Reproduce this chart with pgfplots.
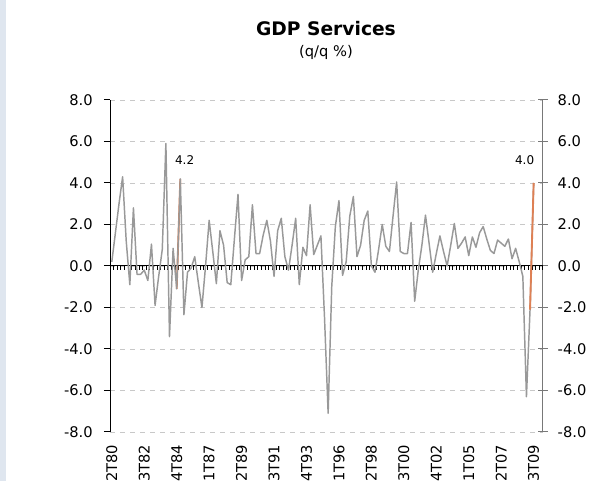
\documentclass[border=0pt]{standalone}
\usepackage{fontspec}
\setmainfont{DejaVu Sans}
\usepackage{pgfplots}
\usepackage{pgfplotstable}
\pgfplotsset{compat=1.18}
\definecolor{strip}{RGB}{223,230,239}
\definecolor{gridc}{RGB}{200,200,200}
\definecolor{serie}{RGB}{153,153,153}
\definecolor{hl}{RGB}{222,128,84}
\definecolor{raxis}{RGB}{120,120,120}

\pgfplotstableread{
i v
0 0.2
1 1.6
2 3.0
3 4.3
4 1.2
5 -0.9
6 2.8
7 -0.4
8 -0.4
9 -0.2
10 -0.7
11 1.05
12 -1.9
13 -0.5
14 0.8
15 5.9
16 -3.4
17 0.85
18 -1.1
19 4.2
20 -2.35
21 -0.3
22 -0.1
23 0.45
24 -0.8
25 -2.0
26 0.0
27 2.2
28 0.7
29 -0.85
30 1.7
31 1.0
32 -0.8
33 -0.9
34 1.3
35 3.45
36 -0.7
37 0.3
38 0.45
39 2.95
40 0.6
41 0.6
42 1.5
43 2.2
44 1.2
45 -0.5
46 1.7
47 2.3
48 0.45
49 -0.2
50 1.0
51 2.3
52 -0.9
53 0.9
54 0.5
55 2.95
56 0.55
57 1.0
58 1.45
59 -2.5
60 -7.1
61 -1.0
62 1.9
63 3.15
64 -0.45
65 0.2
66 2.4
67 3.35
68 0.45
69 1.0
70 2.2
71 2.65
72 0.0
73 -0.3
74 0.8
75 2.0
76 0.95
77 0.7
78 2.4
79 4.05
80 0.7
81 0.6
82 0.6
83 2.1
84 -1.7
85 -0.2
86 1.0
87 2.45
88 1.1
89 -0.3
90 0.6
91 1.45
92 0.7
93 0.0
94 1.0
95 2.05
96 0.85
97 1.1
98 1.4
99 0.5
100 1.4
101 0.9
102 1.6
103 1.9
104 1.3
105 0.75
106 0.6
107 1.25
108 1.1
109 0.95
110 1.3
111 0.35
112 0.85
113 0.2
114 -0.5
115 -6.3
116 -2.1
117 4.0
}\gdp

\begin{document}
\begin{tikzpicture}
\useasboundingbox (0,0) rectangle (450pt,360.75pt);
\fill[strip] (0,0) rectangle (4.8pt,360.75pt);
\pgfplotsset{base/.style={scale only axis, width=324.5pt, height=249pt,
  xmin=-0.5, xmax=119.5, ymin=-8, ymax=8,
  at={(82.5pt,36.75pt)}, anchor=south west}}
% grid + left axis
\begin{axis}[base,
  axis y line*=left, axis x line=none,
  ytick={-8,-6,...,8},
  yticklabels={-8.0,-6.0,-4.0,-2.0,0.0,2.0,4.0,6.0,8.0},
  xtick=\empty,
  ymajorgrids,
  major grid style={gridc, dash pattern=on 4pt off 3.5pt, line width=0.6pt},
  tick align=outside, major tick length=4.5pt,
  y axis line style={black, line width=0.75pt},
  tick style={black, line width=0.75pt},
  yticklabel style={font=\fontsize{11}{13}\selectfont, xshift=-5pt},
]
\end{axis}
% right axis
\begin{axis}[base,
  axis y line*=right, axis x line=none,
  ytick={-8,-6,...,8},
  yticklabels={-8.0,-6.0,-4.0,-2.0,0.0,2.0,4.0,6.0,8.0},
  xtick=\empty,
  tick align=center, major tick length=7.5pt,
  y axis line style={raxis, line width=1.1pt},
  tick style={raxis, line width=0.75pt},
  yticklabel style={font=\fontsize{11}{13}\selectfont, xshift=4pt},
]
\end{axis}
% zero line
\begin{axis}[scale only axis, width=324.5pt, height=20pt,
  xmin=-0.5, xmax=119.5, ymin=0, ymax=1,
  at={(82.5pt,161.25pt)}, anchor=south west,
  axis x line*=bottom, axis y line=none,
  xtick={-0.5,0.5,...,119.5}, xticklabels={},
  tick align=outside, major tick length=3pt,
  tick style={black, line width=0.5pt},
  x axis line style={black, line width=0.75pt},
]
\end{axis}
% bottom labels
\begin{axis}[base,
  axis x line*=bottom, axis y line=none,
  x axis line style={draw=none},
  major tick length=0pt,
  xtick={0,9,...,117},
  xticklabels={2T80,3T82,4T84,1T87,2T89,3T91,4T93,1T96,2T98,3T00,4T02,1T05,2T07,3T09},
  xticklabel style={yshift=-6pt, rotate=90, anchor=east, font=\fontsize{11}{13}\selectfont},
]
\end{axis}
% data
\begin{axis}[base, hide axis, clip=false]
\addplot[hl, line width=1.4pt] coordinates {(18,-1.1)(19,4.2)};
\addplot[serie, line width=1.1pt, line join=round] table[x=i,y=v]{\gdp};
\addplot[hl, line width=1.4pt] coordinates {(116,-2.1)(117,4.0)};
\node[font=\fontsize{9}{11}\selectfont] at (axis cs:20.2,5.1) {4.2};
\node[font=\fontsize{9}{11}\selectfont] at (axis cs:114.5,5.1) {4.0};
\end{axis}
\node[font=\bfseries\fontsize{14}{16}\selectfont, anchor=base] at (244.5pt,334pt) {GDP Services};
\node[font=\fontsize{11}{13}\selectfont, anchor=base] at (244.5pt,318pt) {(q/q \%)};
\end{tikzpicture}
\end{document}
